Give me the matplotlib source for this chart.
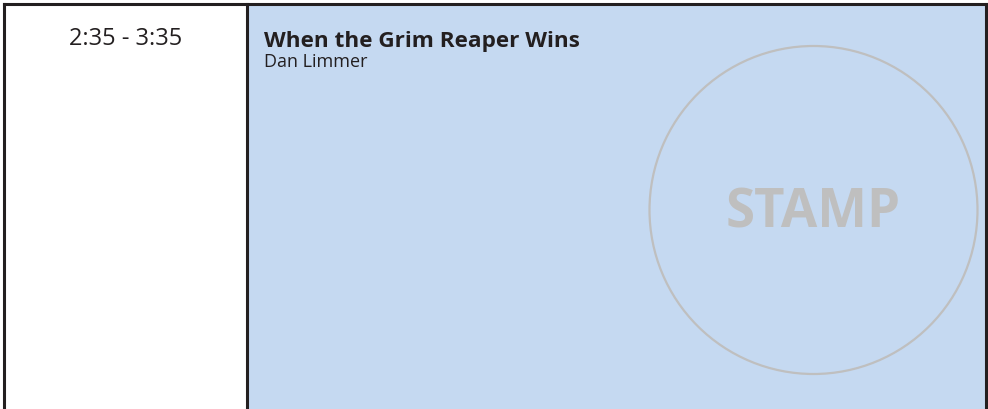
import matplotlib
matplotlib.use("Agg")
import matplotlib.pyplot as plt
from matplotlib.patches import Rectangle, Circle

# Content
time_slot = "2:35 - 3:35"
session_title = "When the Grim Reaper Wins"
speaker = "Dan Limmer"
stamp_label = "STAMP"

W, H = 988, 409
fig = plt.figure(figsize=(W / 100, H / 100), dpi=100)
ax = fig.add_axes([0, 0, 1, 1])
ax.set_xlim(0, W)
ax.set_ylim(H, 0)
ax.axis("off")

border = "#231f20"
blue = "#c5d9f1"
gray = "#bfbfbf"

# white left column
ax.add_patch(Rectangle((4, 4), 243, H, facecolor="white", edgecolor="none"))
# blue right panel
ax.add_patch(Rectangle((247, 4), 739, H, facecolor=blue, edgecolor="none"))
# borders (no bottom)
ax.plot([4, 4], [H + 2, 4], color=border, lw=2.2, solid_capstyle="projecting")
ax.plot([4, 986], [4, 4], color=border, lw=2.2, solid_capstyle="projecting")
ax.plot([986, 986], [4, H + 2], color=border, lw=2.2, solid_capstyle="projecting")
ax.plot([247, 247], [4, H + 2], color=border, lw=2.2, solid_capstyle="projecting")

# stamp circle
ax.add_patch(Circle((813.5, 210), 164, facecolor="none", edgecolor=gray, lw=1.6))
ax.text(813, 228, stamp_label, ha="center", va="baseline", fontsize=38,
        fontweight="bold", color=gray, family="Open Sans")

ax.text(126, 45, time_slot, ha="center", va="baseline", fontsize=17,
        color="#231f20", family="Open Sans")
ax.text(264, 47, session_title, ha="left", va="baseline", fontsize=16.2,
        fontweight="bold", color="#231f20", family="Open Sans")
ax.text(264, 67, speaker, ha="left", va="baseline", fontsize=13,
        color="#231f20", family="Open Sans")

fig.savefig("out.png", dpi=100)
